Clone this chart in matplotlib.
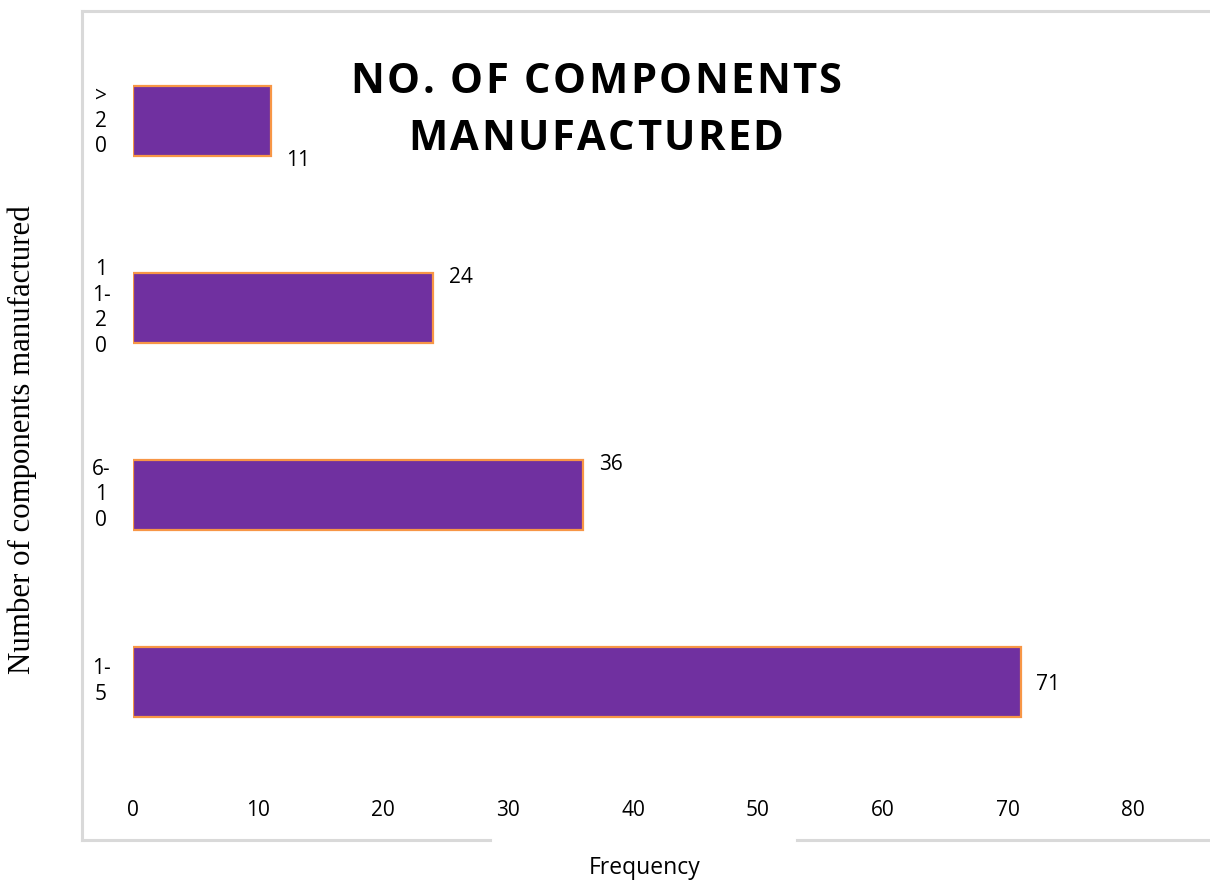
import matplotlib
matplotlib.use("Agg")
import matplotlib.pyplot as plt
from matplotlib.lines import Line2D
from matplotlib.font_manager import FontProperties, findfont, get_font

# Data
categories = ["1-5", "6-10", "11-20", ">20"]
tick_labels = ["1-\n5", "6-\n1\n0", "1\n1-\n2\n0", ">\n2\n0"]
frequency = [71, 36, 24, 11]
title_lines = ["NO. OF COMPONENTS", "MANUFACTURED"]

# Manual label nudges (points) for the value labels
label_offsets = [(20, -2), (20, 22), (20, 22), (20, -28)]

W, H = 1210, 882
DPI = 100
fig = plt.figure(figsize=(W / DPI, H / DPI), dpi=DPI)
fig.patch.set_facecolor("white")

def fx(px):
    return px / W

def fy(py):
    return 1 - py / H

ax = fig.add_axes([fx(133), fy(775), fx(1133) - fx(133), fy(28) - fy(775)])

ypos = list(range(len(categories)))
ax.barh(ypos, frequency, height=0.375, color="#7030A0",
        edgecolor="#F79646", linewidth=1.6, zorder=3)

ax.set_xlim(0, 80)
ax.set_ylim(-0.5, len(categories) - 0.5)
ax.set_xticks(range(0, 81, 10))
ax.set_yticks(ypos)
ax.set_yticklabels([])

sans = ["Open Sans", "DejaVu Sans"]
for lbl in ax.get_xticklabels():
    lbl.set_fontfamily(sans)
ax.tick_params(axis="x", length=0, pad=18, labelsize=15, colors="black")
ax.tick_params(axis="y", length=0)
for s in ax.spines.values():
    s.set_visible(False)

# Category labels, one character block per line, centred left of the bars
for y, txt in zip(ypos, tick_labels):
    ax.annotate(txt, xy=(0, y), xycoords="data",
                xytext=(fx(101), 0), textcoords=("figure fraction", "offset points"),
                ha="center", va="center", fontsize=15, family=sans,
                linespacing=1.28)

# Value labels
for y, v, (dx, dy) in zip(ypos, frequency, label_offsets):
    ax.annotate(f"{v}", xy=(v, y), xytext=(dx, dy), textcoords="offset points",
                ha="center", va="center", fontsize=15, family=sans)


def tracked_text(line, cx, baseline, size, tracking, **kw):
    """Draw a line of text centred at cx (px) with extra letter spacing (px)."""
    prop = FontProperties(family="Open Sans", weight="bold", size=size)
    font = get_font(findfont(prop))
    font.set_size(size, DPI)
    advances = []
    for ch in line:
        g = font.load_char(ord(ch))
        advances.append(g.linearHoriAdvance / 65536)
    total = sum(advances) + tracking * (len(line) - 1)
    pen = cx - total / 2
    for ch, adv in zip(line, advances):
        if ch != " ":
            fig.text(fx(pen), fy(baseline), ch, ha="left", va="baseline",
                     fontproperties=prop, **kw)
        pen += adv + tracking


# Title
tracked_text(title_lines[0], 596, 93, 30, 2.4)
tracked_text(title_lines[1], 596, 150, 30, 2.4)

# Axis titles
fig.text(fx(645), fy(868), "Frequency", ha="center", va="center",
         fontsize=16.5, family=sans)
fig.text(fx(22), fy(440), "Number of components manufactured", rotation=90,
         ha="center", va="center", fontsize=22.2,
         family=["Liberation Serif", "DejaVu Serif"])

# Chart-area frame (with a gap under the axis title)
frame = "#D9D9D9"
for xs, ys in [((82, 82), (11, 840)), ((82, 1210), (11, 11)),
               ((82, 490), (840, 840)), ((797, 1210), (840, 840))]:
    fig.add_artist(Line2D([fx(xs[0]), fx(xs[1])], [fy(ys[0]), fy(ys[1])],
                          color=frame, linewidth=2.2,
                          transform=fig.transFigure))

fig.savefig("out.png", dpi=DPI)
